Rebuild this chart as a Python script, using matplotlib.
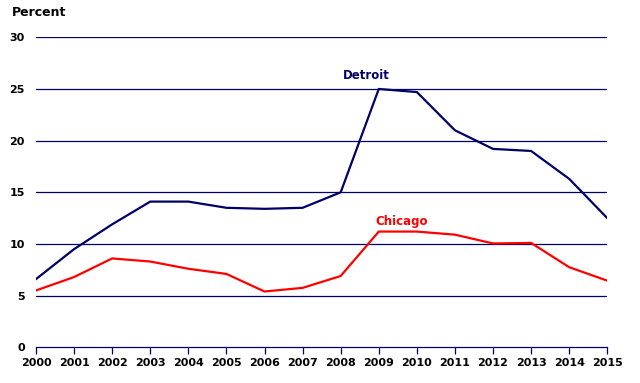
import matplotlib
matplotlib.use("Agg")
import matplotlib.pyplot as plt

years = list(range(2000, 2016))
detroit = [6.6, 9.5, 11.9, 14.1, 14.1, 13.5, 13.4, 13.5, 15.0, 25.0, 24.7, 21.0, 19.2, 19.0, 16.3, 12.5]
chicago = [5.5, 6.8, 8.6, 8.3, 7.6, 7.1, 5.4, 5.75, 6.9, 11.2, 11.2, 10.9, 10.05, 10.1, 7.75, 6.45]
yticks = [0, 5, 10, 15, 20, 25, 30]

navy = "#000066"
red = "#FF0000"

fig = plt.figure(figsize=(6.4, 3.83), dpi=100)
ax = fig.add_axes([36/640, 1 - 347.3/383, (607.3 - 36)/640, (347.3 - 37.3)/383])

for y in yticks[1:]:
    ax.axhline(y, color=navy, lw=0.9, zorder=1)

ax.plot(years, detroit, color=navy, lw=1.6, zorder=3)
ax.plot(years, chicago, color=red, lw=1.6, zorder=3)

ax.set_xlim(2000, 2015)
ax.set_ylim(0, 30)
ax.set_xticks(years)
ax.set_xticklabels([str(y) for y in years], fontsize=8, fontweight="bold")
ax.set_yticks(yticks)
ax.set_yticklabels([str(y) for y in yticks], fontsize=8, fontweight="bold")

for s in ["top", "right", "left"]:
    ax.spines[s].set_visible(False)
ax.spines["bottom"].set_color(navy)
ax.spines["bottom"].set_linewidth(0.9)
ax.tick_params(axis="x", direction="out", length=5, color=navy, width=0.9, pad=3)
ax.tick_params(axis="y", length=0, pad=8)

ax.text(2008.67, 26.3, "Detroit", color=navy, fontsize=8.5, fontweight="bold", ha="center", va="center")
ax.text(2009.6, 12.2, "Chicago", color=red, fontsize=8.5, fontweight="bold", ha="center", va="center")
fig.text(12/640, 1 - 13/383, "Percent", fontsize=9, fontweight="bold", ha="left", va="center")

fig.savefig("out.png", dpi=100)
